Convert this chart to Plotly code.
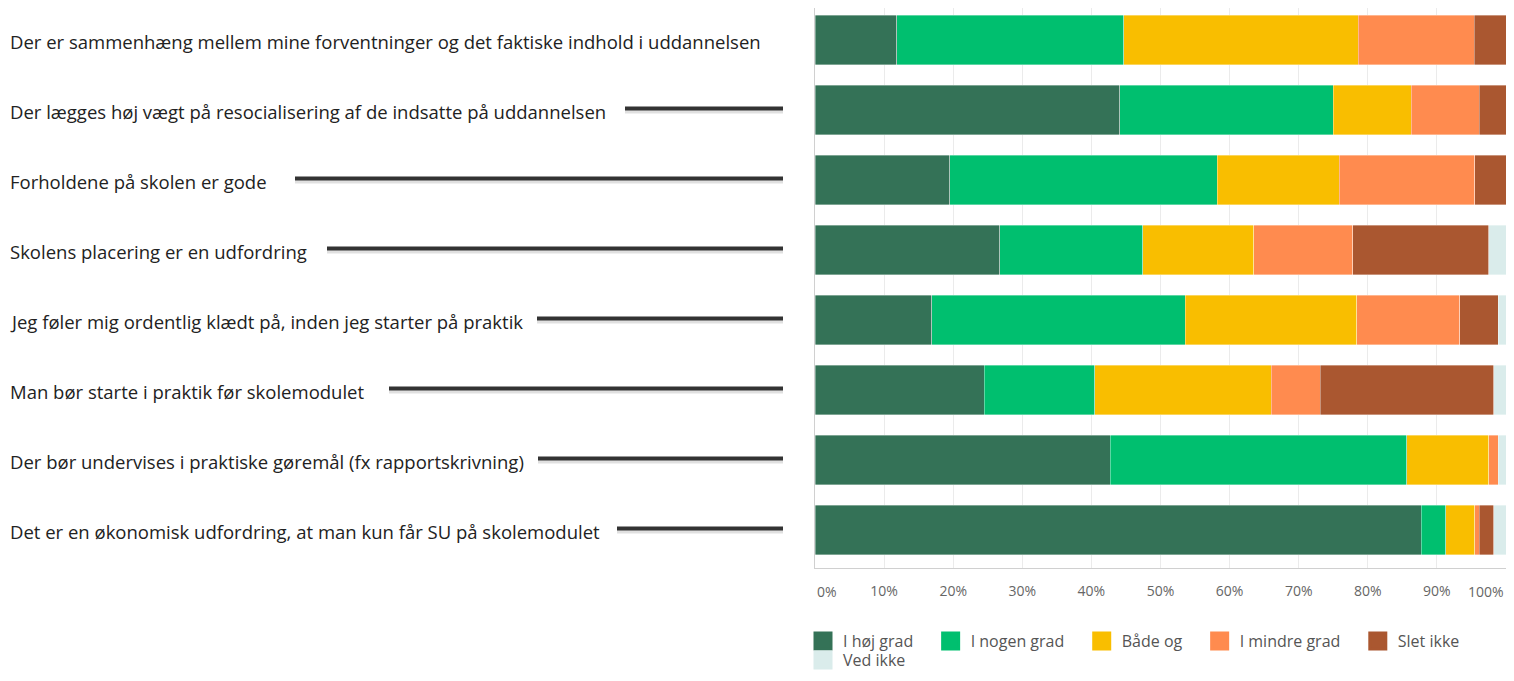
import plotly.graph_objects as go

statements = [
    "Der er sammenhæng mellem mine forventninger og det faktiske indhold i uddannelsen",
    "Der lægges høj vægt på resocialisering af de indsatte på uddannelsen",
    "Forholdene på skolen er gode",
    "Skolens placering er en udfordring",
    "Jeg føler mig ordentlig klædt på, inden jeg starter på praktik",
    "Man bør starte i praktik før skolemodulet",
    "Der bør undervises i praktiske gøremål (fx rapportskrivning)",
    "Det er en økonomisk udfordring, at man kun får SU på skolemodulet",
]

answers = ["I høj grad", "I nogen grad", "Både og", "I mindre grad", "Slet ikke", "Ved ikke"]

hoej_grad = [11.8, 44.1, 19.5, 26.7, 16.9, 24.5, 42.7, 87.7]
nogen_grad = [32.9, 30.9, 38.7, 20.7, 36.7, 16.0, 42.9, 3.6]
baade_og = [33.9, 11.3, 17.7, 16.1, 24.8, 25.5, 11.9, 4.2]
mindre_grad = [16.8, 9.8, 19.6, 14.3, 14.9, 7.1, 1.4, 0.6]
slet_ikke = [4.6, 3.9, 4.5, 19.7, 5.6, 25.1, 0.0, 2.1]
ved_ikke = [0.0, 0.0, 0.0, 2.5, 1.1, 1.8, 1.1, 1.8]

tick_vals = [0, 10, 20, 30, 40, 50, 60, 70, 80, 90, 100]
tick_text = ["0%", "10%", "20%", "30%", "40%", "50%", "60%", "70%", "80%", "90%", "100%"]

colors = ["#347257", "#00BF6F", "#F9BE00", "#FF8B4F", "#AA5730", "#DAECEB"]
series = [hoej_grad, nogen_grad, baade_og, mindre_grad, slet_ikke, ved_ikke]

# page has an 8px body margin, so figure coords = page coords - 8
OFF = 8
W, H = 1498, 665
L, R, T, B = 807, 0, 0, 105
pw = W - L - R
ph = H - T - B


def px_x(p):
    return (p - OFF - L) / pw


def px_y(p):
    return (H - B - (p - OFF)) / ph


fig = go.Figure()
for k, (name, vals, col) in enumerate(zip(answers, series, colors)):
    fig.add_trace(go.Bar(
        y=statements, x=vals, name=name, orientation="h",
        marker=dict(color=col, line=dict(color="rgba(255,255,255,0.6)", width=0.6)),
        legendgroup=name, showlegend=False,
    ))
    # bigger legend swatch (nbsp keeps the wider gap between entries)
    fig.add_trace(go.Scatter(
        y=[None], x=[None], name=name + "\u00a0\u00a0\u00a0", mode="markers",
        marker=dict(symbol="square", size=16, color=col, line=dict(color=col, width=3)),
        legendgroup=name, showlegend=True,
        legend="legend" if k < 5 else "legend2",
    ))

# left labels and connector lines (page pixel positions)
connector_start = [None, 625, 295, 327, 537, 389, 538, 617]
for i, s in enumerate(statements):
    fig.add_annotation(
        x=px_x(8), xref="paper", y=i + 0.02, yref="y", text=s, showarrow=False,
        xanchor="left", yanchor="middle",
        font=dict(family="Open Sans", size=18.5, color="#222"),
    )
    if connector_start[i] is not None:
        fig.add_shape(type="line", xref="paper", yref="y",
                      x0=px_x(connector_start[i]), x1=px_x(783), y0=i + 0.02, y1=i + 0.02,
                      line=dict(color="rgba(0,0,0,0.12)", width=4))
        fig.add_shape(type="line", xref="paper", yref="y",
                      x0=px_x(connector_start[i]), x1=px_x(783), y0=i - 0.02, y1=i - 0.02,
                      line=dict(color="#333333", width=4))

# end tick labels kept inside the figure
for v, t, anc in [(tick_vals[0], tick_text[0], "left"), (tick_vals[-1], tick_text[-1], "right")]:
    fig.add_annotation(x=v, xref="x", y=px_y(591), yref="paper", text=t,
                       showarrow=False, xanchor=anc, yanchor="middle",
                       font=dict(family="Open Sans", size=14, color="#666"))

legend_style = dict(orientation="h", xanchor="left", yanchor="top",
                    font=dict(family="Open Sans", size=16, color="#555"),
                    itemsizing="trace", traceorder="normal", tracegroupgap=0,
                    bgcolor="rgba(0,0,0,0)")

shift = 3 / 70
fig.update_layout(
    width=W, height=H,
    margin=dict(l=L, r=R, t=T, b=B, autoexpand=False),
    barmode="stack", bargap=0.286,
    plot_bgcolor="white", paper_bgcolor="white",
    font=dict(family="Open Sans", size=14, color="#666"),
    xaxis=dict(range=[0, 100], tickvals=tick_vals[1:-1], ticktext=tick_text[1:-1],
               showgrid=True, gridcolor="#ebebeb", gridwidth=1,
               showline=True, linecolor="#d0d0d0", zeroline=False,
               ticklabelstandoff=10, fixedrange=True),
    yaxis=dict(range=[len(statements) - 0.5 + shift, -0.5 + shift],
               showticklabels=False, showgrid=False,
               showline=True, linecolor="#d0d0d0", zeroline=False),
    legend=dict(x=px_x(803), y=px_y(624), **legend_style),
    legend2=dict(x=px_x(803), y=px_y(643), **legend_style),
    showlegend=True,
)

fig.write_html("out.html")
